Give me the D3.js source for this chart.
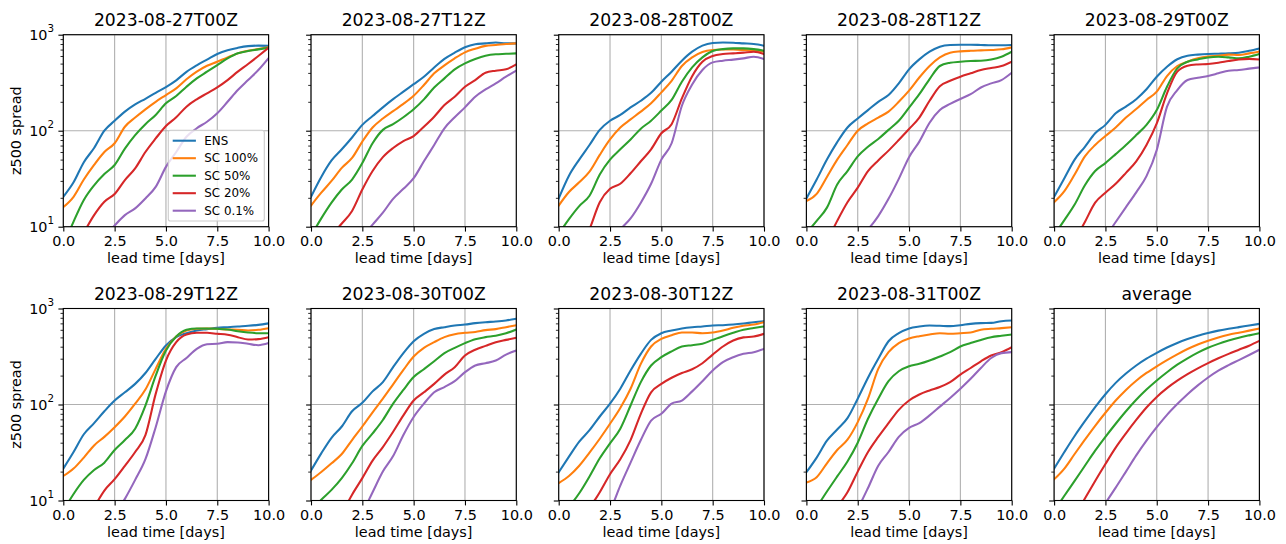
<!DOCTYPE html>
<html><head><meta charset="utf-8">
<script src="https://cdn.jsdelivr.net/npm/d3@7"></script>
<style>
html,body{margin:0;padding:0;background:#fff;}
svg{display:block;font-family:"DejaVu Sans",sans-serif;}
</style></head><body>
<svg id="chart" width="1286" height="544"></svg>
<script>
// ---------------- data ----------------
const leadDays = [0,0.5,1,1.5,2,2.5,3,3.5,4,4.5,5,5.5,6,6.5,7,7.5,8,8.5,9,9.5,10];
const seriesNames = ["ENS","SC 100%","SC 50%","SC 20%","SC 0.1%"];
const seriesColors = ["#1f77b4","#ff7f0e","#2ca02c","#d62728","#9467bd"];
const panelTitles = ["2023-08-27T00Z","2023-08-27T12Z","2023-08-28T00Z","2023-08-28T12Z","2023-08-29T00Z",
                     "2023-08-29T12Z","2023-08-30T00Z","2023-08-30T12Z","2023-08-31T00Z","average"];
const xTickValues = [0,2.5,5,7.5,10];
const xTickLabels = ["0.0","2.5","5.0","7.5","10.0"];
const yTickValues = [10,100,1000];
const yTickExponents = ["1","2","3"];
const yMinorTickValues = [20,30,40,50,60,70,80,90,200,300,400,500,600,700,800,900];

// each: [ENS, SC 100%, SC 50%, SC 20%, SC 0.1%]
const run0827T00 = [
  [20.5,29,47,66,100,127,158,188,215,248,285,335,410,480,550,630,690,730,760,770,765],
  [16,20.5,31,44,60,74,110,137,167,200,235,276,343,412,475,523,580,639,680,710,740],
  [6.3,11.3,19,27,35.4,43.9,65,90,117,146,193,230,287,351,412,483,566,640,676,703,732],
  [3.8,5.7,8.7,13.2,18.2,21.9,30.6,40.5,60,83,112,138,178,212,245,283,337,412,495,600,732],
  [2.8,3.6,4.7,6,7.8,10.3,13.2,15.5,19.7,26,42,60,86.6,106,124,152,200,265,337,428,570]
];
const run0827T12 = [
  [20.5,33,49,64,85,115,142,175,213,255,305,365,456,560,650,740,795,812,830,812,812],
  [16.6,22.6,30,41,52,77,108,134,160,190,231,299,396,479,567,655,714,765,781,800,812],
  [8,12.2,17.8,24.4,31,46,74,102,117,138,167,212,282,351,436,503,558,604,626,632,639],
  [4.1,5.8,8.1,10.8,14.6,24.4,38,53,66,78,88,110,140,185,226,287,337,402,422,436,490],
  [1.8,2.4,3.2,4.3,5.8,7.8,10.5,14,19.5,24.8,32,48,71,106,138,175,226,269,311,365,422]
];
const run0828T00 = [
  [19.7,34,50,71,102,127,146,175,205,248,324,412,536,665,770,820,830,825,812,800,768],
  [16.6,23,29,37.5,56,81,108,131,158,193,251,331,472,580,660,692,700,700,692,680,665],
  [8.4,12,16.4,21,35,50,64,81,105,127,162,209,324,456,580,675,708,720,720,708,680],
  [2.3,3.5,5.5,9.4,18,24.8,28,36,48,64,94,117,217,370,523,600,629,639,650,665,629],
  [1.2,1.7,2.4,3.3,4.6,6.5,9.3,12.2,17.8,28,50,74,182,303,429,515,536,550,567,590,558]
];
const run0828T12 = [
  [19.7,31,50,76,108,134,164,200,235,311,436,553,665,750,781,786,786,781,775,775,781],
  [18.5,22,33,50,71,100,119,137,158,200,261,358,472,580,650,670,680,686,692,704,738],
  [8.6,11.5,15.8,27.5,38,54,68,82,102,127,174,240,345,472,510,523,532,536,552,590,665],
  [2.8,4.4,7,11.5,18,25.5,38,49,62,80,104,137,205,291,331,365,396,429,450,471,523],
  [1.5,2.1,3,4.2,5.8,7.5,9.4,12.9,19.5,31.5,53,77,121,164,190,214,240,282,311,337,402]
];
const run0829T00 = [
  [20.5,32,50,68,94,115,152,178,213,270,365,464,555,604,620,630,634,639,650,680,720],
  [18,23.5,35,54,71,88,108,137,168,209,255,371,472,523,567,594,604,620,614,639,670],
  [8.2,11.7,17,27,38,46,57,71,90,115,164,287,446,523,552,580,590,580,567,590,629],
  [3.2,4.8,7.2,11.2,17.8,22.6,28,36.4,48,71,119,245,412,475,490,495,510,532,552,560,552],
  [1.5,2.1,3,4.2,5.8,7.8,11.2,16,22.8,33.6,63,178,265,337,356,372,396,422,429,443,456]
];
const run0829T12 = [
  [21.5,32,49,64,85,110,134,164,213,299,412,503,553,590,610,630,639,650,660,675,700],
  [18,21.5,28,37.5,46,58,75,102,143,235,380,511,590,614,620,614,604,600,590,600,624],
  [7.8,11.7,16.4,20.8,24.8,33.6,42.6,56,97.6,200,365,511,600,620,620,614,604,580,562,553,553],
  [2.5,3.8,5.6,8.5,12.7,16.7,23,32,48,129,287,446,536,558,558,545,532,503,475,480,503],
  [1.3,1.8,2.6,3.6,5,7,10.4,16.4,26.9,58,137,245,305,380,425,429,446,443,429,415,436]
];
const run0830T00 = [
  [20.5,31,45,59,85,104,137,171,245,343,456,545,610,639,665,680,704,720,732,750,781],
  [16.4,19.8,24.4,30.5,42.6,59,83,115,162,229,316,389,446,503,540,558,570,595,610,639,670],
  [7.9,10.2,12.9,17.1,24.4,37,50,69,102,142,193,233,282,343,389,436,479,503,520,552,604],
  [2.3,3.4,5,7.3,11.5,17.1,26,36,52,77,110,134,164,205,245,324,372,408,446,471,495],
  [1.3,1.8,2.6,3.6,5.1,7.4,12.2,20,29,48,74,102,134,152,175,217,255,269,287,331,365]
];
const run0830T12 = [
  [19.7,28.6,41,54,75,102,146,226,337,471,553,590,620,639,650,665,670,680,697,720,738],
  [15.2,18,23,31.5,44,63,92,146,265,402,483,527,562,562,553,562,590,630,660,680,720],
  [6.5,8.6,11.9,17.8,27.5,39.4,56,97.6,171,255,311,358,402,415,429,471,515,558,600,625,650],
  [2.4,3.5,5.1,8.2,12.2,18.8,26.9,42.6,80,134,164,190,213,233,269,331,402,464,500,511,545],
  [1.2,1.7,2.5,3.6,5.2,7.8,14.3,24.8,42.6,68,80,102,110,137,175,226,276,311,337,351,380]
];
const run0831T00 = [
  [19.7,28,42,55,72,115,190,299,456,553,620,650,665,660,655,670,692,704,708,738,750],
  [15.4,17.5,24.4,33.6,43,65.5,115,235,351,436,487,515,536,553,545,553,562,600,614,625,639],
  [6.5,8.6,12.4,17.8,25.5,40,71,115,175,222,250,265,287,316,351,402,436,471,503,520,536],
  [2.5,3.7,5.4,8.5,12.2,20,32,46,64,88,110,127,140,152,171,205,240,282,324,351,396],
  [1.3,1.8,2.6,3.7,5.4,8.2,13.5,23,32,46,57,64,77,95,117,146,185,240,305,343,351]
];
const runAverage = [
  [21.5,32,47,67,94,128,168,210,255,300,345,392,438,480,520,555,588,615,640,665,692],
  [16.6,21.5,30.5,43,60,82,110,142,177,213,250,290,333,378,422,462,500,533,560,588,620],
  [7.8,11.2,16,23,33,46,63,85,112,143,178,217,260,303,347,390,428,463,496,525,553],
  [2.8,4.4,6.8,10.5,16,24,35.5,50,69,93,120,148,177,207,238,270,303,337,372,410,460],
  [1.4,2.1,3.1,4.6,6.6,9.4,13.6,20,29.5,42,58,78,101,128,158,191,225,257,290,328,372]
];
const panelData = [run0827T00,run0827T12,run0828T00,run0828T12,run0829T00,
                   run0829T12,run0830T00,run0830T12,run0831T00,runAverage];

// ---------------- layout ----------------
const svg = d3.select("#chart");
const W = 205.3, H = 192;
const colLeft = [63.3, 311.0, 558.7, 806.4, 1054.1];
const rowTop = [34.7, 308.5];
const FS = 14.4;

panelTitles.forEach((title, pi) => {
  const col = pi % 5, row = Math.floor(pi / 5);
  const g = svg.append("g").attr("transform", `translate(${colLeft[col]},${rowTop[row]})`);
  const x = d3.scaleLinear().domain([0, 10]).range([0, W]);
  const y = d3.scaleLog().domain([10, 1000]).range([H, 0]);

  // grid
  g.append("g").selectAll("line").data(xTickValues).join("line")
    .attr("x1", d => x(d)).attr("x2", d => x(d)).attr("y1", 0).attr("y2", H)
    .attr("stroke", "#b0b0b0").attr("stroke-width", 1.1);
  g.append("g").selectAll("line").data(yTickValues).join("line")
    .attr("x1", 0).attr("x2", W).attr("y1", d => y(d)).attr("y2", d => y(d))
    .attr("stroke", "#b0b0b0").attr("stroke-width", 1.1);

  // clip
  const cid = "clip" + pi;
  g.append("clipPath").attr("id", cid).append("rect").attr("x", 0).attr("y", 0).attr("width", W).attr("height", H);

  const line = d3.line().x((d, i) => x(leadDays[i])).y(d => y(d)).curve(d3.curveMonotoneX);
  const lg = g.append("g").attr("clip-path", `url(#${cid})`);
  panelData[pi].forEach((vals, si) => {
    lg.append("path").attr("d", line(vals)).attr("fill", "none")
      .attr("stroke", seriesColors[si]).attr("stroke-width", 2.08)
      .attr("stroke-linejoin", "round").attr("stroke-linecap", "square");
  });

  // x axis
  const xa = g.append("g").attr("transform", `translate(0,${H})`)
    .call(d3.axisBottom(x).tickValues(xTickValues).tickFormat((d, i) => xTickLabels[i])
      .tickSize(4.9).tickPadding(4.6).tickSizeOuter(0));
  xa.select(".domain").remove();
  xa.selectAll("line").attr("stroke", "#000").attr("stroke-width", 1.1);
  xa.selectAll("text").attr("font-size", FS).attr("font-family", "DejaVu Sans").attr("fill", "#000");

  // y axis major + minor ticks
  const ya = g.append("g").call(d3.axisLeft(y).tickValues(yTickValues).tickFormat("").tickSize(4.9).tickSizeOuter(0));
  ya.select(".domain").remove();
  ya.selectAll("line").attr("stroke", "#000").attr("stroke-width", 1.1);
  const ym = g.append("g").call(d3.axisLeft(y).tickValues(yMinorTickValues).tickFormat("").tickSize(2.8).tickSizeOuter(0));
  ym.select(".domain").remove();
  ym.selectAll("line").attr("stroke", "#000").attr("stroke-width", 0.83);

  if (col === 0) {
    yTickValues.forEach((v, i) => {
      const t = g.append("text").attr("x", -9.3).attr("y", y(v) + 5.2)
        .attr("text-anchor", "end").attr("font-size", FS).attr("fill", "#000");
      t.append("tspan").text("10");
      t.append("tspan").attr("font-size", 10.3).attr("dy", -7.6).text(yTickExponents[i]);
    });
    g.append("text").attr("transform", `translate(-42.5,${H / 2}) rotate(-90)`)
      .attr("text-anchor", "middle").attr("font-size", FS).attr("fill", "#000").text("z500 spread");
  }

  // spines
  g.append("rect").attr("x", 0).attr("y", 0).attr("width", W).attr("height", H)
    .attr("fill", "none").attr("stroke", "#000").attr("stroke-width", 1.1);

  // title and x label
  g.append("text").attr("x", W / 2).attr("y", -8.3).attr("text-anchor", "middle")
    .attr("font-size", 17.2).attr("fill", "#000").text(title);
  g.append("text").attr("x", W / 2).attr("y", H + 36).attr("text-anchor", "middle")
    .attr("font-size", FS).attr("fill", "#000").text("lead time [days]");

  // legend
  if (pi === 0) {
    const lx = 168.3 - colLeft[0], ly = 130.2 - rowTop[0];
    const leg = g.append("g").attr("transform", `translate(${lx},${ly})`);
    leg.append("rect").attr("x", 0).attr("y", 0).attr("width", 96).attr("height", 90.8)
      .attr("rx", 2.3).attr("ry", 2.3).attr("fill", "#fff").attr("fill-opacity", 0.8)
      .attr("stroke", "#cccccc").attr("stroke-width", 1.1);
    seriesNames.forEach((name, si) => {
      const yy = 10.5 + si * 17.5;
      leg.append("line").attr("x1", 4.4).attr("x2", 27.6).attr("y1", yy).attr("y2", yy)
        .attr("stroke", seriesColors[si]).attr("stroke-width", 2.08);
      leg.append("text").attr("x", 36).attr("y", yy + 4.2).attr("font-size", 11.9)
        .attr("fill", "#000").text(name);
    });
  }
});
</script>
</body></html>
